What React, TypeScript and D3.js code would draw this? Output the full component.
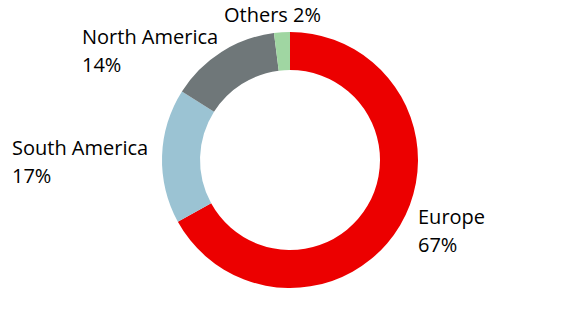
import React from "react";
import * as d3 from "d3";

const categories = ["Europe", "South America", "North America", "Others"];
const shares = [67, 17, 14, 2];
const colors = ["#EC0000", "#9BC3D3", "#6F7779", "#A0D6A2"];

// label layout: [x, baseline y, one line?]
const labelLayout: [number, number, boolean][] = [
  [418, 224, false],
  [12, 155, false],
  [82, 44, false],
  [224, 22, true],
];

const W = 580;
const H = 320;
const cx = 290;
const cy = 160;
const outerR = 128;
const innerR = 90;

export default function App() {
  const data = categories.map((c, i) => ({ name: c, value: shares[i], color: colors[i] }));
  const pie = d3
    .pie<{ name: string; value: number; color: string }>()
    .sort(null)
    .value((d) => d.value)
    .startAngle(0)
    .endAngle(2 * Math.PI);
  const arc = d3
    .arc<d3.PieArcDatum<{ name: string; value: number; color: string }>>()
    .innerRadius(innerR)
    .outerRadius(outerR);
  const arcs = pie(data);
  return (
    <svg
      width={W}
      height={H}
      style={{ position: "absolute", left: 0, top: 0, background: "#fff" }}
      fontFamily="'Open Sans', sans-serif"
      fontSize={20}
    >
      <g transform={`translate(${cx},${cy})`}>
        {arcs.map((a, i) => (
          <path key={i} d={arc(a) || ""} fill={a.data.color} />
        ))}
      </g>
      {data.map((d, i) => {
        const [x, y, single] = labelLayout[i];
        return single ? (
          <text key={i} x={x} y={y} fill="#000">
            {`${d.name} ${d.value}%`}
          </text>
        ) : (
          <text key={i} x={x} y={y} fill="#000">
            <tspan x={x}>{d.name}</tspan>
            <tspan x={x} dy={28}>{`${d.value}%`}</tspan>
          </text>
        );
      })}
    </svg>
  );
}
